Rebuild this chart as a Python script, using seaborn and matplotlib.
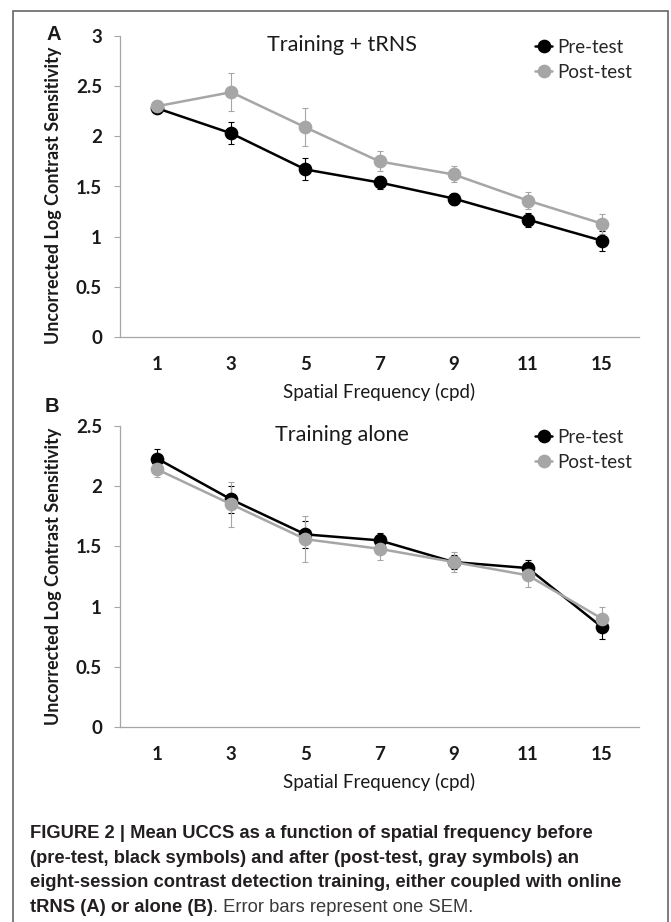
import numpy as np
import pandas as pd
import matplotlib
matplotlib.use("Agg")
import matplotlib.pyplot as plt
from matplotlib import font_manager as fm
from matplotlib.patches import Rectangle
from matplotlib.ticker import FuncFormatter, MultipleLocator
import seaborn as sns

# data
freqs = ["1", "3", "5", "7", "9", "11", "15"]
tests = ["Pre-test", "Post-test"]

a_pre = [2.28, 2.03, 1.67, 1.54, 1.38, 1.17, 0.96]
a_pre_err = [0.05, 0.11, 0.11, 0.06, 0.06, 0.07, 0.10]
a_post = [2.30, 2.44, 2.09, 1.75, 1.62, 1.36, 1.13]
a_post_err = [0.05, 0.19, 0.19, 0.10, 0.08, 0.085, 0.10]

b_pre = [2.23, 1.89, 1.60, 1.55, 1.37, 1.32, 0.83]
b_pre_err = [0.075, 0.11, 0.115, 0.065, 0.06, 0.065, 0.10]
b_post = [2.14, 1.85, 1.56, 1.48, 1.37, 1.26, 0.90]
b_post_err = [0.06, 0.185, 0.19, 0.095, 0.085, 0.095, 0.10]

sns.set_style("white")
plt.rcParams["font.family"] = ["Lato", "DejaVu Sans"]

W, H = 671, 922
fig = plt.figure(figsize=(W / 100, H / 100), dpi=100)

colors = {"Pre-test": "#000000", "Post-test": "#a6a6a6"}
axis_gray = "#a6a6a6"
txt = "#1a1a1a"


def px_axes(left, top, right, bottom):
    return fig.add_axes([left / W, 1 - bottom / H, (right - left) / W, (bottom - top) / H])


def panel(ax, pre, pre_err, post, post_err, ymax, title, legend_y):
    df = pd.DataFrame({
        "freq": freqs * 2,
        "value": pre + post,
        "test": ["Pre-test"] * len(freqs) + ["Post-test"] * len(freqs),
    })
    pos = np.arange(len(freqs))
    ax.errorbar(pos, pre, yerr=pre_err, fmt="none", ecolor=colors["Pre-test"],
                elinewidth=0.8, capsize=2.2, capthick=0.8, zorder=1)
    ax.errorbar(pos, post, yerr=post_err, fmt="none", ecolor=colors["Post-test"],
                elinewidth=0.8, capsize=2.2, capthick=0.8, zorder=1)
    sns.pointplot(data=df, x="freq", y="value", hue="test", order=freqs,
                  hue_order=tests, palette=colors, errorbar=None, markers="o",
                  markersize=8.5, linewidth=1.8, ax=ax)
    handles = ax.get_legend().legend_handles
    ax.legend(handles, tests, loc="upper left", bbox_to_anchor=(0.80, legend_y),
              frameon=False, handlelength=0.9, handletextpad=0.25,
              labelspacing=0.4, borderaxespad=0, borderpad=0,
              prop={"family": "Lato", "size": 13.5})

    ax.set_xlim(-0.5, len(freqs) - 0.5)
    ax.set_ylim(0, ymax)
    ax.yaxis.set_major_locator(MultipleLocator(0.5))
    ax.yaxis.set_major_formatter(FuncFormatter(lambda v, p: "%g" % v))
    ax.set_xticks(np.arange(-0.5, len(freqs), 1), minor=True)
    ax.tick_params(axis="x", which="major", length=0, pad=14, labelsize=13.5,
                   labelcolor=txt)
    ax.tick_params(axis="x", which="minor", length=5, width=0.8, color=axis_gray,
                   direction="out")
    ax.tick_params(axis="y", length=4, width=0.8, color=axis_gray, pad=9,
                   labelsize=13.5, labelcolor=txt, left=True)
    for lab in ax.get_xticklabels() + ax.get_yticklabels():
        lab.set_fontweight("bold")
    sns.despine(ax=ax)
    for s in ["left", "bottom"]:
        ax.spines[s].set_color(axis_gray)
        ax.spines[s].set_linewidth(0.9)

    ax.set_xlabel("Spatial Frequency (cpd)", fontsize=13.5, color=txt)
    ax.xaxis.label.set_va("center")
    ax.xaxis.set_label_coords(0.5, -0.183)
    ax.set_ylabel("Uncorrected Log Contrast Sensitivity", fontsize=13,
                  fontweight="bold", color=txt)
    ax.yaxis.label.set_va("center")
    ax.text(0.428, 0.97, title, transform=ax.transAxes, ha="center", va="center",
            fontsize=15.5, color=txt)


ax_a = px_axes(120, 36, 639, 337)
panel(ax_a, a_pre, a_pre_err, a_post, a_post_err, 3, "Training + tRNS", 0.99)
ax_a.yaxis.set_label_coords(-0.129, 0.47)

ax_b = px_axes(120, 426, 639, 727)
panel(ax_b, b_pre, b_pre_err, b_post, b_post_err, 2.5, "Training alone", 0.99)
ax_b.yaxis.set_label_coords(-0.129, 0.5)

# panel letters
fig.text(54 / W, 1 - 35 / H, "A", ha="center", va="center", fontsize=14.5,
         fontweight="bold", family="Liberation Sans", color=txt,
         bbox=dict(facecolor="white", edgecolor="none", pad=0.5))
fig.text(52 / W, 1 - 406 / H, "B", ha="center", va="center", fontsize=14.5,
         fontweight="bold", family="Liberation Sans", color=txt)

# frame round the figure
fig.patches.append(Rectangle((13 / W, -0.05), (668 - 13) / W, 1.05 - 11 / H,
                             transform=fig.transFigure, fill=False,
                             edgecolor="#666666", linewidth=1.2))

# caption
names = {f.name for f in fm.fontManager.ttflist}
cap_font = "Liberation Sans Narrow" if "Liberation Sans Narrow" in names else "Liberation Sans"
cap_lines = [
    "FIGURE 2 | Mean UCCS as a function of spatial frequency before",
    "(pre-test, black symbols) and after (post-test, gray symbols) an",
    "eight-session contrast detection training, either coupled with online",
]
last_bold = "tRNS (A) or alone (B)"
last_rest = ". Error bars represent one SEM."
baselines = [838, 862.7, 887.4, 912]

fig.canvas.draw()
r = fig.canvas.get_renderer()
probe = fig.text(0, 0, cap_lines[0], family=cap_font, fontweight="bold", fontsize=13)
wpx = probe.get_window_extent(r).width
probe.remove()
cap_size = 13 * 563 / wpx

for line, yb in zip(cap_lines, baselines):
    fig.text(30 / W, 1 - yb / H, line, family=cap_font, fontweight="bold",
             fontsize=cap_size, va="baseline", color="#231f20")
t4 = fig.text(30 / W, 1 - baselines[3] / H, last_bold, family=cap_font,
              fontweight="bold", fontsize=cap_size, va="baseline", color="#231f20")
fig.canvas.draw()
x_end = t4.get_window_extent(r).x1
fig.text(x_end / W, 1 - baselines[3] / H, last_rest, family=cap_font,
         fontsize=cap_size, va="baseline", color="#3a3a3a")

fig.savefig("out.png", dpi=100)
